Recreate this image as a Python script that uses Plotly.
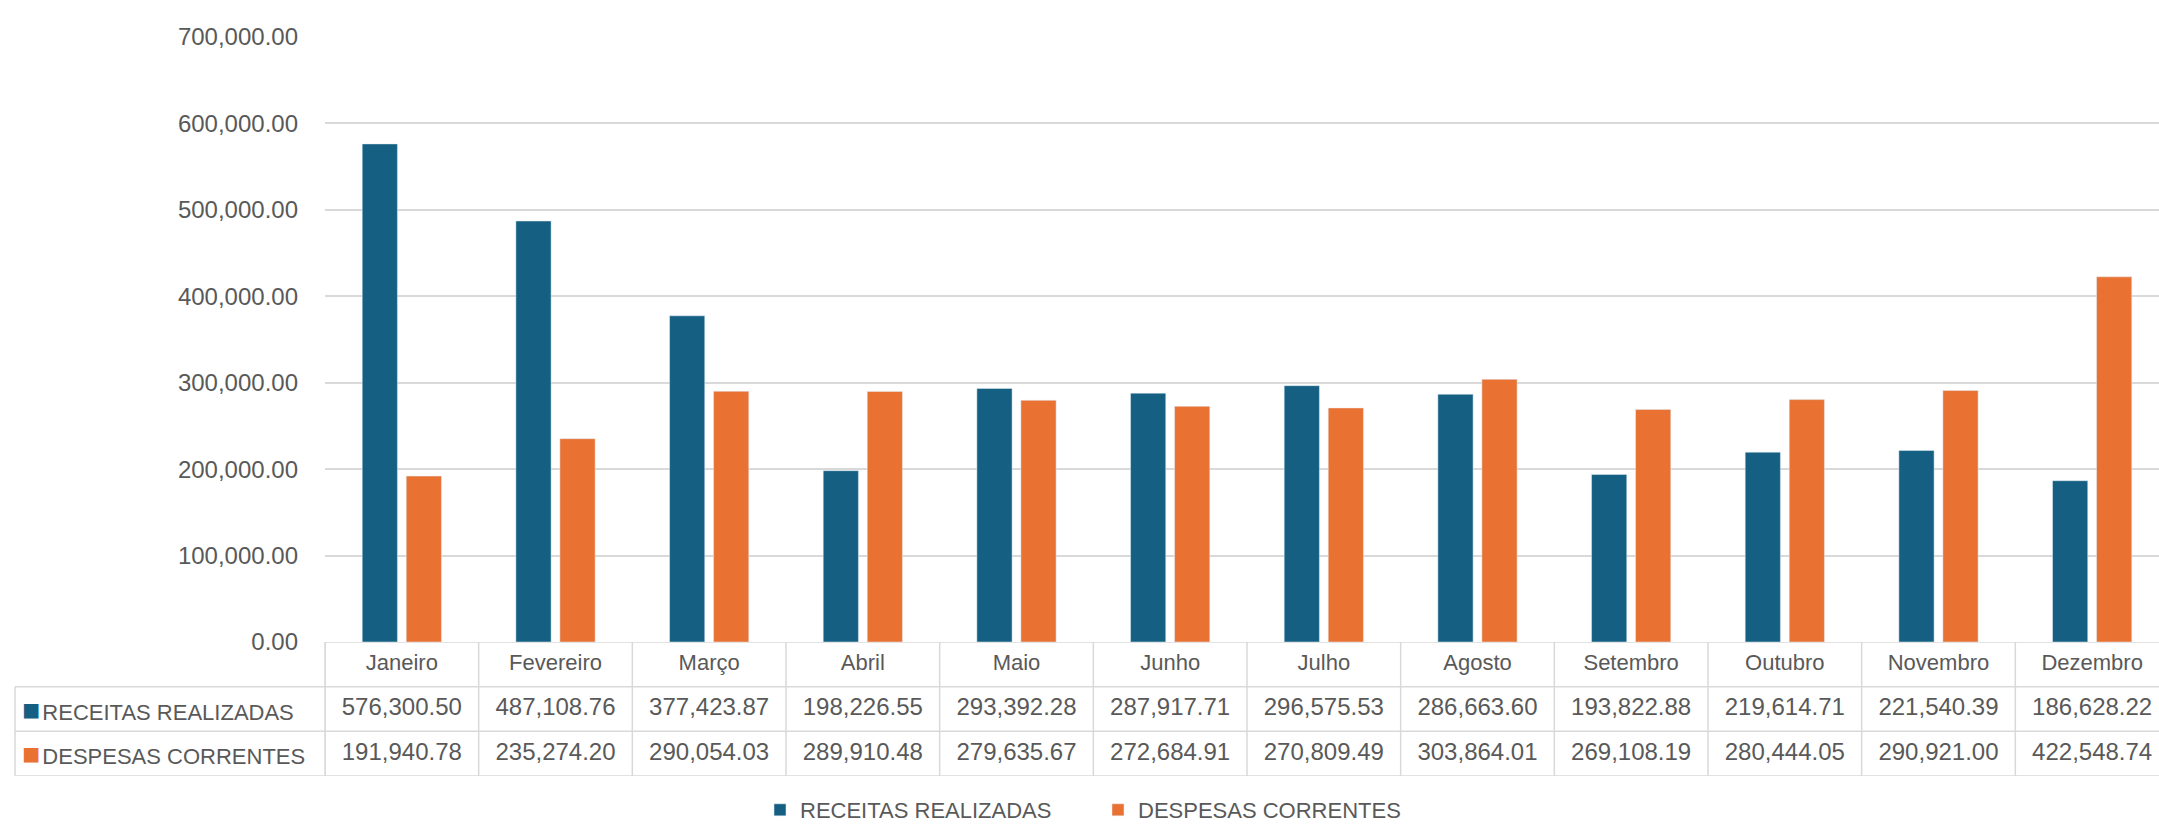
import plotly.graph_objects as go

MESES = ["Janeiro", "Fevereiro", "Março", "Abril", "Maio", "Junho",
         "Julho", "Agosto", "Setembro", "Outubro", "Novembro", "Dezembro"]
RECEITAS = [576300.50, 487108.76, 377423.87, 198226.55, 293392.28, 287917.71,
            296575.53, 286663.60, 193822.88, 219614.71, 221540.39, 186628.22]
DESPESAS = [191940.78, 235274.20, 290054.03, 289910.48, 279635.67, 272684.91,
            270809.49, 303864.01, 269108.19, 280444.05, 290921.00, 422548.74]
SERIES = ["RECEITAS REALIZADAS", "DESPESAS CORRENTES"]

AZUL = "#156082"
LARANJA = "#E97132"
CINZA_TXT = "#595959"
CINZA_LINHA = "#D9D9D9"
FONTE = "Liberation Sans, Arial, sans-serif"

W, H = 2159, 828
X0 = 325 / W          # borda esquerda da área de plotagem
XT = 15 / W           # borda esquerda da tabela
# linhas da tabela no eixo y2: 0..1 cabeçalho, 1..2 receitas, 2..3 despesas
LINHA_MES, LINHA_REC, LINHA_DESP = 0.5, 1.5, 2.5

fig = go.Figure()
fig.add_trace(go.Bar(x=MESES, y=RECEITAS, name=SERIES[0], marker_color=AZUL))
fig.add_trace(go.Bar(x=MESES, y=DESPESAS, name=SERIES[1], marker_color=LARANJA))

# Tabela de dados (texto das células)
def texto(y, valores, tamanho):
    return go.Scatter(
        x=MESES, y=[y] * len(MESES), yaxis="y2", mode="text", text=valores,
        textfont=dict(size=tamanho, color=CINZA_TXT, family=FONTE),
        showlegend=False, hoverinfo="skip",
    )

fig.add_trace(texto(LINHA_MES, MESES, 22))
fig.add_trace(texto(LINHA_REC, [f"{v:,.2f}" for v in RECEITAS], 24))
fig.add_trace(texto(LINHA_DESP, [f"{v:,.2f}" for v in DESPESAS], 24))

linha = dict(color=CINZA_LINHA, width=1.5)
shapes = []
for i in range(len(MESES) + 1):
    shapes.append(dict(type="line", xref="x", yref="y2", x0=i - 0.5, x1=i - 0.5,
                       y0=0, y1=3, line=linha))
shapes.append(dict(type="line", xref="paper", yref="y2", x0=X0, x1=1, y0=0, y1=0, line=linha))
for y in (1, 2, 3):
    shapes.append(dict(type="line", xref="paper", yref="y2", x0=XT, x1=1, y0=y, y1=y, line=linha))
shapes.append(dict(type="line", xref="paper", yref="y2", x0=XT, x1=XT, y0=1, y1=3, line=linha))
shapes.append(dict(type="line", xref="paper", yref="y2", x0=X0, x1=X0, y0=0, y1=3, line=linha))

anotacoes = []
for y, cor, nome in ((LINHA_REC, AZUL, SERIES[0]), (LINHA_DESP, LARANJA, SERIES[1])):
    anotacoes.append(dict(
        xref="paper", yref="y2", x=20 / W, y=y, xanchor="left", yanchor="middle",
        text=(f"<span style='color:{cor};font-size:30px'>■</span>"
              f"<span style='font-size:8px'> </span>{nome}"),
        showarrow=False,
        font=dict(size=22, color=CINZA_TXT, family=FONTE),
    ))

fig.update_layout(
    width=W, height=H, autosize=False,
    margin=dict(l=0, r=0, t=0, b=0, autoexpand=False),
    paper_bgcolor="white", plot_bgcolor="white",
    font=dict(family=FONTE, color=CINZA_TXT),
    barmode="group", bargap=0.427, bargroupgap=0.2,
    xaxis=dict(domain=[X0, 1], range=[-0.5, 11.435], showticklabels=False,
               showgrid=False, zeroline=False, showline=False, fixedrange=True),
    yaxis=dict(domain=[(H - 642) / H, (H - 37) / H], range=[0, 700000],
               dtick=100000, tickformat=",.2f", showgrid=True,
               gridcolor=CINZA_LINHA, gridwidth=1.5, zeroline=False,
               showline=False, ticks="", ticklabelstandoff=26, automargin=False,
               tickfont=dict(size=24, color=CINZA_TXT), fixedrange=True),
    yaxis2=dict(domain=[(H - 776) / H, (H - 642) / H], range=[3, 0], anchor="x",
                visible=False, fixedrange=True),
    shapes=shapes,
    annotations=anotacoes,
    legend=dict(orientation="h", x=760 / W, xanchor="left", y=(H - 810) / H,
                yanchor="middle", font=dict(size=22, color=CINZA_TXT),
                entrywidth=293, entrywidthmode="pixels", bgcolor="rgba(0,0,0,0)"),
)

fig.write_html("out.html", config={"displayModeBar": False},
               post_script="document.body.style.margin='0';")
